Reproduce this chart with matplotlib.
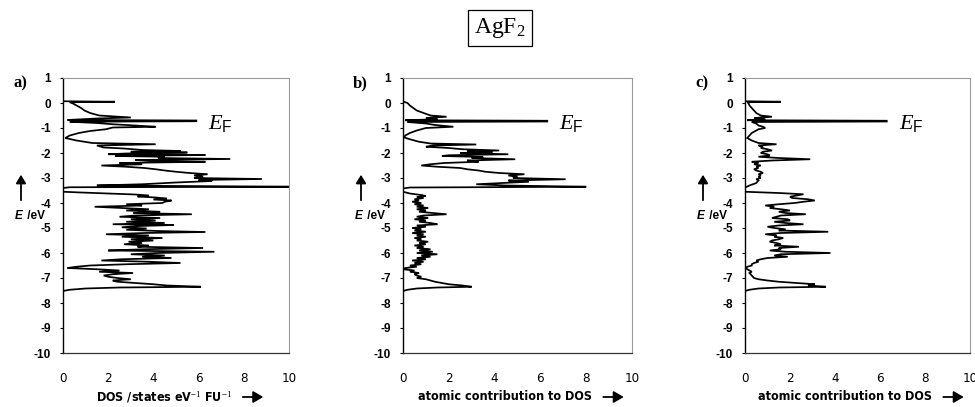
import matplotlib
matplotlib.use("Agg")
import matplotlib.pyplot as plt
from matplotlib import font_manager

# ---------------- data (energy in eV, DOS value) ----------------
curve_a = [(0.07,0),(0.05,2.3),(0.03,0.3),(0.0,0.4),(-0.1,0.6),(-0.2,0.8),(-0.3,0.95),(-0.4,1.2),
 (-0.5,1.6),(-0.55,2.5),(-0.58,3.0),(-0.62,1.5),(-0.68,0.2),(-0.70,5.9),(-0.73,5.9),(-0.75,0.3),
 (-0.8,1.5),(-0.85,2.2),(-0.9,3.2),(-0.95,4.1),(-0.98,2.2),(-1.05,1.9),(-1.12,1.2),(-1.2,0.7),
 (-1.3,0.3),(-1.4,0.1),(-1.5,0.6),(-1.6,1.3),(-1.65,4.1),(-1.7,1.5),(-1.78,1.8),(-1.82,2.7),
 (-1.88,3.5),(-1.92,5.2),(-1.95,3.0),(-1.98,5.5),(-2.02,2.8),(-2.05,2.0),(-2.08,6.3),(-2.12,2.3),
 (-2.15,4.5),(-2.2,4.2),(-2.24,7.4),(-2.28,3.2),(-2.32,4.0),(-2.35,6.3),(-2.4,2.5),(-2.45,3.5),
 (-2.5,1.7),(-2.55,2.8),(-2.6,3.6),(-2.65,4.1),(-2.7,4.5),(-2.75,5.0),(-2.8,5.6),(-2.85,6.4),
 (-2.9,5.8),(-2.95,6.2),(-3.0,5.8),(-3.04,8.8),(-3.08,6.0),(-3.12,6.6),(-3.18,5.0),(-3.25,3.5),
 (-3.3,1.5),(-3.35,10.5),(-3.37,0.3),(-3.4,0),(-3.55,0),(-3.58,0.8),(-3.62,2.0),(-3.66,3.2),
 (-3.7,3.8),(-3.74,3.3),(-3.78,4.1),(-3.82,4.6),(-3.86,4.0),(-3.9,4.8),(-3.95,4.5),(-4.0,4.4),
 (-4.05,2.8),(-4.1,3.5),(-4.15,1.4),(-4.2,2.6),(-4.25,3.8),(-4.3,2.8),(-4.35,4.3),(-4.4,3.1),
 (-4.45,5.7),(-4.5,3.2),(-4.55,2.5),(-4.6,4.3),(-4.65,3.0),(-4.7,4.1),(-4.75,2.8),(-4.8,4.5),
 (-4.85,2.2),(-4.88,4.9),(-4.92,3.4),(-4.97,2.6),(-5.02,3.7),(-5.07,2.8),(-5.12,4.2),(-5.16,6.3),
 (-5.2,3.6),(-5.25,1.9),(-5.3,3.8),(-5.35,2.6),(-5.4,4.4),(-5.45,3.0),(-5.5,4.0),(-5.55,2.9),
 (-5.6,3.5),(-5.65,2.7),(-5.7,3.8),(-5.75,3.3),(-5.8,6.2),(-5.85,3.6),(-5.9,2.0),(-5.95,6.7),
 (-6.0,4.2),(-6.05,3.0),(-6.1,4.5),(-6.15,3.5),(-6.2,4.8),(-6.25,2.6),(-6.3,1.7),(-6.35,3.8),
 (-6.4,5.2),(-6.45,2.8),(-6.5,1.2),(-6.55,0.6),(-6.6,0.2),(-6.65,1.5),(-6.7,2.5),(-6.75,1.6),
 (-6.8,3.1),(-6.85,2.2),(-6.9,1.8),(-6.95,2.0),(-7.0,2.4),(-7.05,3.0),(-7.1,2.2),(-7.15,2.4),
 (-7.2,3.2),(-7.25,4.0),(-7.3,4.6),(-7.35,6.1),(-7.38,2.5),(-7.42,1.0),(-7.47,0.3),(-7.52,0.0),
 (-7.55,0.0)]

curve_b = [(0.07,0),(0.03,0.1),(0,0.2),(-0.1,0.3),(-0.2,0.45),(-0.3,0.6),(-0.4,0.9),(-0.5,1.2),
 (-0.55,1.9),(-0.6,1.0),(-0.65,1.5),(-0.69,0.1),(-0.71,6.3),(-0.74,6.3),(-0.76,0.2),(-0.82,1.0),
 (-0.88,1.4),(-0.95,2.2),(-1.0,1.0),(-1.1,0.6),(-1.2,0.3),(-1.3,0.1),(-1.38,0.05),(-1.45,0.3),
 (-1.55,0.7),(-1.62,1.2),(-1.66,3.2),(-1.7,1.3),(-1.75,1.0),(-1.8,2.0),(-1.85,2.6),(-1.9,4.2),
 (-1.93,2.8),(-1.97,3.9),(-2.0,2.5),(-2.05,4.6),(-2.09,2.0),(-2.12,1.7),(-2.16,3.5),(-2.2,3.0),
 (-2.25,4.9),(-2.3,2.8),(-2.35,3.3),(-2.4,1.8),(-2.45,1.2),(-2.5,0.8),(-2.55,1.5),(-2.6,2.5),
 (-2.65,2.8),(-2.7,3.3),(-2.75,3.6),(-2.8,4.2),(-2.85,5.3),(-2.9,4.6),(-2.95,5.0),(-3.0,4.8),
 (-3.05,7.1),(-3.1,4.6),(-3.15,5.5),(-3.2,4.3),(-3.25,3.2),(-3.3,4.5),(-3.35,8.0),(-3.38,0.3),
 (-3.42,0.0),(-3.55,0.0),(-3.62,0.3),(-3.68,0.8),(-3.72,1.0),(-3.76,0.6),(-3.8,0.9),(-3.85,0.5),
 (-3.9,0.7),(-3.95,0.4),(-4.0,0.8),(-4.05,0.5),(-4.1,0.9),(-4.15,0.6),(-4.2,1.1),(-4.25,0.6),
 (-4.3,1.0),(-4.35,0.7),(-4.4,1.3),(-4.45,1.9),(-4.5,0.9),(-4.55,0.6),(-4.6,1.1),(-4.65,0.5),
 (-4.7,1.0),(-4.75,0.7),(-4.8,1.2),(-4.85,1.5),(-4.9,0.6),(-4.95,1.0),(-5.0,0.4),(-5.05,0.8),
 (-5.1,0.5),(-5.15,1.0),(-5.2,0.4),(-5.25,0.9),(-5.3,0.6),(-5.35,1.0),(-5.4,0.5),(-5.45,0.8),
 (-5.5,0.6),(-5.55,1.1),(-5.6,0.7),(-5.65,1.0),(-5.7,0.5),(-5.75,0.9),(-5.8,0.6),(-5.85,1.2),
 (-5.9,0.7),(-5.95,1.3),(-6.0,0.6),(-6.05,1.5),(-6.1,0.8),(-6.15,1.2),(-6.2,0.6),(-6.25,1.0),
 (-6.3,0.4),(-6.35,0.9),(-6.4,0.5),(-6.45,0.8),(-6.5,0.3),(-6.55,0.6),(-6.6,0.1),(-6.65,0.0),
 (-6.7,0.5),(-6.75,0.3),(-6.8,0.7),(-6.85,0.5),(-6.9,0.6),(-6.95,0.8),(-7.0,0.6),(-7.05,1.0),
 (-7.1,1.2),(-7.15,1.4),(-7.2,1.7),(-7.25,2.0),(-7.3,2.6),(-7.35,3.0),(-7.38,1.5),(-7.42,0.6),
 (-7.47,0.2),(-7.52,0.0),(-7.55,0.0)]

curve_c = [(0.07,0),(0.05,1.6),(0.03,0.1),(0,0.15),(-0.1,0.2),(-0.2,0.3),(-0.3,0.4),(-0.4,0.5),
 (-0.5,0.7),(-0.55,1.2),(-0.6,0.4),(-0.65,0.9),(-0.69,0.1),(-0.71,6.3),(-0.74,6.3),(-0.76,0.3),
 (-0.82,0.5),(-0.9,0.6),(-0.95,0.8),(-1.0,0.9),(-1.05,0.6),(-1.1,0.5),(-1.2,0.3),(-1.3,0.2),
 (-1.4,0.1),(-1.5,0.3),(-1.6,0.6),(-1.65,1.4),(-1.7,0.6),(-1.75,0.8),(-1.8,0.7),(-1.85,1.0),
 (-1.9,1.2),(-1.95,0.8),(-2.0,0.7),(-2.05,1.0),(-2.1,1.1),(-2.15,0.6),(-2.2,1.5),(-2.25,2.9),
 (-2.3,1.2),(-2.35,0.3),(-2.4,0.6),(-2.45,0.4),(-2.5,0.7),(-2.55,0.5),(-2.6,0.6),(-2.65,0.4),
 (-2.7,0.5),(-2.75,0.7),(-2.8,0.8),(-2.85,0.6),(-2.9,0.7),(-2.95,0.6),(-3.0,0.7),(-3.05,0.5),
 (-3.1,0.6),(-3.2,0.5),(-3.3,0.2),(-3.38,0.0),(-3.55,0.0),(-3.6,1.5),(-3.65,2.6),(-3.7,2.3),
 (-3.75,2.0),(-3.8,2.1),(-3.85,2.8),(-3.9,3.1),(-3.95,2.6),(-4.0,2.2),(-4.05,1.5),(-4.1,0.9),
 (-4.15,1.3),(-4.2,1.1),(-4.25,1.6),(-4.3,2.0),(-4.35,1.5),(-4.4,1.8),(-4.45,2.7),(-4.5,1.6),
 (-4.55,1.4),(-4.6,1.2),(-4.65,1.9),(-4.7,2.0),(-4.75,1.3),(-4.8,1.8),(-4.85,2.6),(-4.9,1.5),
 (-4.95,1.0),(-5.0,1.3),(-5.05,1.8),(-5.1,1.5),(-5.15,3.7),(-5.2,1.6),(-5.25,0.9),(-5.3,1.4),
 (-5.35,1.3),(-5.4,1.7),(-5.45,1.5),(-5.5,1.2),(-5.55,1.1),(-5.6,1.4),(-5.65,1.6),(-5.7,1.3),
 (-5.75,2.4),(-5.8,1.5),(-5.85,1.6),(-5.9,1.1),(-5.95,1.8),(-6.0,3.8),(-6.05,1.6),(-6.1,1.3),
 (-6.15,1.9),(-6.2,1.0),(-6.25,0.7),(-6.3,0.5),(-6.35,0.6),(-6.4,0.4),(-6.45,0.3),(-6.5,0.3),
 (-6.55,0.1),(-6.6,0.05),(-6.65,0.1),(-6.7,0.2),(-6.75,0.3),(-6.8,0.2),(-6.9,0.3),(-7.0,0.4),
 (-7.05,0.6),(-7.1,1.0),(-7.15,1.5),(-7.2,2.3),(-7.25,3.1),(-7.3,2.8),(-7.35,3.6),(-7.38,1.5),
 (-7.42,0.6),(-7.47,0.2),(-7.52,0.0),(-7.55,0.0)]

panel_letters = ["a)", "b)", "c)"]
x_labels = ["DOS /states eV$^{-1}$ FU$^{-1}$", "atomic contribution to DOS", "atomic contribution to DOS"]
x_ticks = [0, 2, 4, 6, 8, 10]
y_ticks = [1, 0, -1, -2, -3, -4, -5, -6, -7, -8, -9, -10]
fermi_label_pos = [(6.4, -0.8), (6.8, -0.8), (6.85, -0.8)]
title = "AgF$_2$"

# ---------------- fonts ----------------
cond_ok = any(f.name == "DejaVu Sans" and str(f.stretch) in ("condensed", "semi-condensed", "587", "500")
              for f in font_manager.fontManager.ttflist)
narrow_kw = dict(family="DejaVu Sans", fontstretch="condensed") if cond_ok else dict(family="Liberation Sans")

plt.rcParams["font.family"] = ["Liberation Sans", "DejaVu Sans"]
plt.rcParams["mathtext.fontset"] = "custom"
plt.rcParams["mathtext.it"] = "Liberation Serif:italic"
plt.rcParams["mathtext.rm"] = "Liberation Serif"
plt.rcParams["mathtext.sf"] = "Liberation Sans"

W, H = 975, 407
fig = plt.figure(figsize=(W / 100, H / 100), dpi=100)

boxes = [(63, 289), (403, 632), (745, 970)]
top_px, bot_px = 78, 353
curves = [curve_a, curve_b, curve_c]

for i, ((l, r), curve) in enumerate(zip(boxes, curves)):
    ax = fig.add_axes([l / W, 1 - bot_px / H, (r - l) / W, (bot_px - top_px) / H])
    E = [p[0] for p in curve]
    D = [p[1] for p in curve]
    ax.plot(D, E, color="black", lw=1.25, solid_joinstyle="miter")
    ax.set_xlim(0, 10)
    ax.set_ylim(-10, 1)
    ax.set_xticks(x_ticks)
    ax.set_yticks(y_ticks)
    ax.set_xticklabels([str(t) for t in x_ticks], fontsize=9.5, **narrow_kw)
    ax.set_yticklabels([str(t) for t in y_ticks], fontsize=8.5, fontweight="bold")
    ax.tick_params(axis="y", direction="out", length=2.5, width=0.8, pad=6)
    ax.tick_params(axis="x", length=0, pad=14)
    for s in ("top", "right"):
        ax.spines[s].set_color("#9a9a9a")
        ax.spines[s].set_linewidth(0.8)
    ax.spines["bottom"].set_color("#333333")
    ax.spines["bottom"].set_linewidth(0.9)
    ax.spines["left"].set_linewidth(1.0)

    fx, fy = fermi_label_pos[i]
    ax.text(fx, fy, r"$\mathit{E}_{\mathsf{F}}$", fontsize=16, va="center", ha="left")

    fig.text((l - 50) / W, 1 - 83 / H, panel_letters[i], family="Liberation Serif",
             fontweight="bold", fontsize=12, ha="left", va="center")

    ax_x = l - 40
    fig.text(ax_x / W, 1 - 216 / H, r"E", fontweight="bold", style="italic", fontsize=8.5,
             ha="right", va="center")
    fig.text((ax_x + 1) / W, 1 - 216 / H, " /eV", fontweight="bold", fontsize=8.5,
             ha="left", va="center")
    fig.add_artist(matplotlib.patches.FancyArrowPatch(
        ((ax_x - 2) / W, 1 - 203 / H), ((ax_x - 2) / W, 1 - 172 / H),
        transform=fig.transFigure, arrowstyle="-|>,head_length=5,head_width=3",
        color="black", lw=1.3))

    cx = (l + r) / 2
    t = fig.text((cx - 12) / W, 1 - 397 / H, x_labels[i], fontweight="bold",
                 fontsize=9, ha="center", va="center", **narrow_kw)
    fig.canvas.draw()
    bb = t.get_window_extent()
    x0 = bb.x1 + 8
    fig.add_artist(matplotlib.patches.FancyArrowPatch(
        (x0 / W, 1 - 397 / H), ((x0 + 26) / W, 1 - 397 / H),
        transform=fig.transFigure, arrowstyle="-|>,head_length=6,head_width=3.5",
        color="black", lw=1.3))

fig.text(500 / W, 1 - 28 / H, title, family="Liberation Serif", fontsize=17,
         ha="center", va="center",
         bbox=dict(boxstyle="square,pad=0.25", fc="white", ec="black", lw=0.9))

fig.savefig("out.png", dpi=100)
